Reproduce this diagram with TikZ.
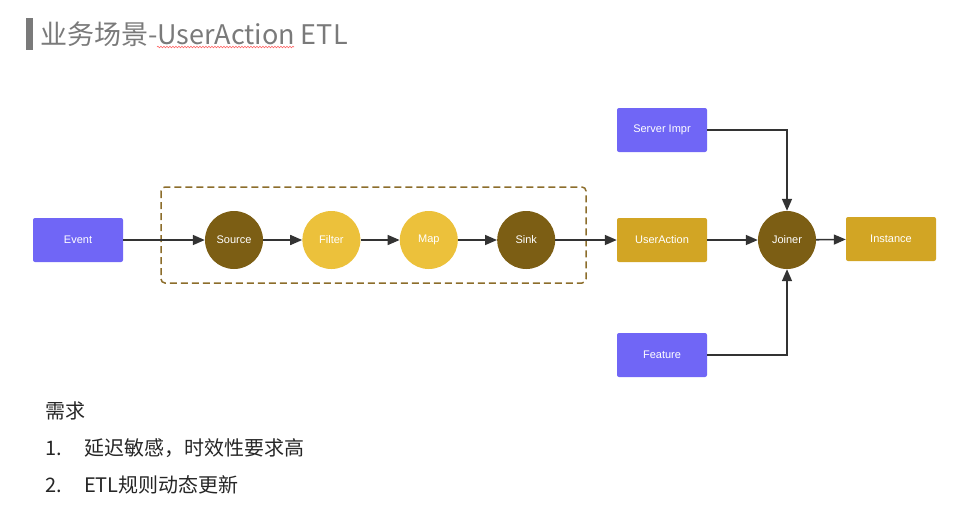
\documentclass[tikz,border=0pt]{standalone}
\usepackage{fontspec}
\newfontfamily\cjk{Noto Sans CJK SC}
\newfontfamily\lblfont{Liberation Sans}
\usetikzlibrary{arrows.meta,positioning,decorations.pathmorphing}
\definecolor{srcblue}{HTML}{7066F6}
\definecolor{opdark}{HTML}{7C5E14}
\definecolor{oplight}{HTML}{ECC13B}
\definecolor{outgold}{HTML}{D2A524}
\definecolor{dashbrown}{HTML}{8C6D2B}
\definecolor{arrgray}{HTML}{333333}
\definecolor{titlegray}{HTML}{7A7A7A}

\begin{document}
\begin{tikzpicture}[
    x=1pt,y=-1pt,
    node distance=39pt,
    box/.style={rounded corners=2pt,minimum width=90pt,minimum height=44pt,inner sep=0pt,font=\lblfont\fontsize{11}{13}\selectfont,text=white},
    op/.style={circle,minimum size=58pt,inner sep=0pt,font=\lblfont\fontsize{11}{13}\selectfont,text=white},
    arr/.style={-{Triangle[length=12pt,width=10pt]},line width=1.6pt,draw=arrgray}
]
\useasboundingbox (0,0) rectangle (955,523);

% title with bar
\fill[titlegray] (26,18) rectangle (33,50);
\node[anchor=base west,inner sep=0pt,text=titlegray,font=\cjk\fontsize{27}{32}\selectfont] (title) at (40,44) {业务场景-UserAction ETL};
\draw[red!60,line width=0.6pt,decorate,decoration={snake,amplitude=0.8pt,segment length=3pt}] (157,47) -- (294,47);

% pipeline inside the dashed job box
\draw[dashbrown,line width=1.5pt,dash pattern=on 7pt off 4pt,rounded corners=4pt] (161,187) rectangle (586,283);
\node[box,fill=srcblue] (E) at (78,240) {Event};
\node[op,fill=opdark] (S) at (234,240) {Source};
\node[op,fill=oplight,right=of S] (F) {Filter};
\node[op,fill=oplight,right=of F] (M) {Map};
\node[op,fill=opdark,right=of M] (K) {Sink};

% join stage
\node[box,fill=outgold] (U) at (662,240) {UserAction};
\node[op,fill=opdark] (J) at (787,240) {Joiner};
\node[box,fill=outgold] (I) at (891,239) {Instance};
\node[box,fill=srcblue] (SI) at (662,130) {Server Impr};
\node[box,fill=srcblue] (FE) at (662,355) {Feature};

\draw[arr] (E) -- (S);
\draw[arr] (S) -- (F);
\draw[arr] (F) -- (M);
\draw[arr] (M) -- (K);
\draw[arr] (K) -- (U);
\draw[arr] (U) -- (J);
\draw[arr] (J) -- (I);
\draw[arr] (SI.east) -| (J.north);
\draw[arr] (FE.east) -| (J.south);

% requirements
\begin{scope}[every node/.style={anchor=west,inner sep=0pt,font=\cjk\fontsize{20}{24}\selectfont,text=black!85}]
\node (req) at (45,411) {需求};
\node (n1) at (45,448) {1.};
\node (r1) at (84,448) {延迟敏感，时效性要求高};
\node (n2) at (45,485) {2.};
\node (r2) at (84,485) {ETL规则动态更新};
\end{scope}
\end{tikzpicture}
\end{document}
